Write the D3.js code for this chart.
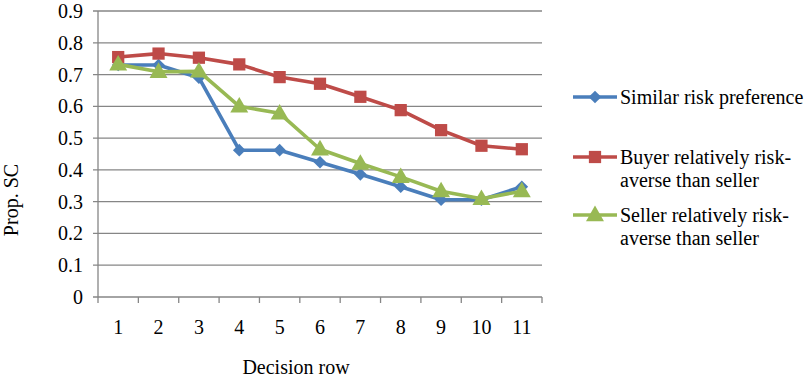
<!DOCTYPE html>
<html><head><meta charset="utf-8">
<script src="https://cdn.jsdelivr.net/npm/d3@7"></script>
<style>body{margin:0;background:#fff;} svg{display:block;} svg text{font-family:"Liberation Serif","Times New Roman",serif;}</style>
</head><body><svg id="c" width="812" height="380" font-family="Liberation Serif"></svg>
<script>
const categories = ["1","2","3","4","5","6","7","8","9","10","11"];
const similar = [0.73,0.73,0.69,0.462,0.462,0.424,0.386,0.347,0.306,0.306,0.347];
const buyerAverse = [0.755,0.766,0.753,0.732,0.692,0.671,0.63,0.588,0.525,0.476,0.465];
const sellerAverse = [0.732,0.709,0.71,0.6,0.578,0.465,0.42,0.378,0.333,0.309,0.333];
const yTicks = [0,0.1,0.2,0.3,0.4,0.5,0.6,0.7,0.8,0.9];
const yTickLabels = ["0","0.1","0.2","0.3","0.4","0.5","0.6","0.7","0.8","0.9"];
const seriesNames = [["Similar risk preference"],["Buyer relatively risk-","averse than seller"],["Seller relatively risk-","averse than seller"]];
const seriesColors = ["#4a7ebb","#be4b48","#98b954"];
const seriesShapes = ["diamond","square","triangle"];
const seriesData = [similar, buyerAverse, sellerAverse];

const svg = d3.select("#c");
const L=98, R=542, T=11, B=297;
const FS=20;
const x = d3.scaleBand().domain(categories).range([L,R]).padding(0);
const y = d3.scaleLinear().domain([0,0.9]).range([B,T]);
const grid="#868686";

svg.append("g").selectAll("line").data(yTicks).join("line")
  .attr("x1",L-5).attr("x2",R).attr("y1",d=>y(d)).attr("y2",d=>y(d))
  .attr("stroke",grid).attr("stroke-width",1.3);
svg.append("line").attr("x1",L).attr("x2",L).attr("y1",T).attr("y2",B).attr("stroke",grid).attr("stroke-width",1.3);
svg.append("g").selectAll("text").data(yTicks).join("text")
  .attr("x",L-15).attr("y",(d)=>y(d)).attr("dy","0.35em").attr("text-anchor","end")
  .attr("font-size",FS).attr("fill","#000").text((d,i)=>yTickLabels[i]);
const xt = categories.map(c=>x(c)).concat([R]);
svg.append("g").selectAll("line").data(xt).join("line")
  .attr("x1",d=>d).attr("x2",d=>d).attr("y1",B).attr("y2",B+6).attr("stroke",grid).attr("stroke-width",1.3);
svg.append("g").selectAll("text").data(categories).join("text")
  .attr("x",d=>x(d)+x.bandwidth()/2).attr("y",B+37).attr("text-anchor","middle")
  .attr("font-size",FS).attr("fill","#000").text(d=>d);
svg.append("text").attr("x",296).attr("y",374).attr("text-anchor","middle").attr("font-size",FS).text("Decision row");
svg.append("text").attr("transform","translate(18,200) rotate(-90)").attr("text-anchor","middle").attr("font-size",FS).text("Prop. SC");

function marker(g, shape, color, cx, cy){
  if(shape==="diamond") g.append("path").attr("d",d3.symbol().type(d3.symbolSquare).size(80)()).attr("transform",`translate(${cx},${cy}) rotate(45)`).attr("fill",color);
  else if(shape==="triangle") g.append("path").attr("d",d3.symbol().type(d3.symbolTriangle).size(140)()).attr("transform",`translate(${cx},${cy+1})`).attr("fill",color);
  else g.append("path").attr("d",d3.symbol().type(d3.symbolSquare).size(150)()).attr("transform",`translate(${cx},${cy})`).attr("fill",color);
}
const line = d3.line().x((d,i)=>x(categories[i])+x.bandwidth()/2).y(d=>y(d));
const plotG = svg.append("g");
seriesData.forEach((data,k)=>{
  const g = plotG.append("g");
  g.append("path").attr("d",line(data)).attr("fill","none").attr("stroke",seriesColors[k]).attr("stroke-width",3.6).attr("stroke-linejoin","round");
  data.forEach((v,i)=>marker(g,seriesShapes[k],seriesColors[k],x(categories[i])+x.bandwidth()/2,y(v)));
});

const legY=[97,157,215];
seriesNames.forEach((lines,k)=>{
  const g=svg.append("g");
  g.append("line").attr("x1",573).attr("x2",617).attr("y1",legY[k]).attr("y2",legY[k]).attr("stroke",seriesColors[k]).attr("stroke-width",3.6);
  marker(g,seriesShapes[k],seriesColors[k],595,legY[k]);
  lines.forEach((t,j)=>g.append("text").attr("x",620).attr("y",legY[k]+j*23).attr("dy","0.35em").attr("font-size",FS).text(t));
});
</script></body></html>
